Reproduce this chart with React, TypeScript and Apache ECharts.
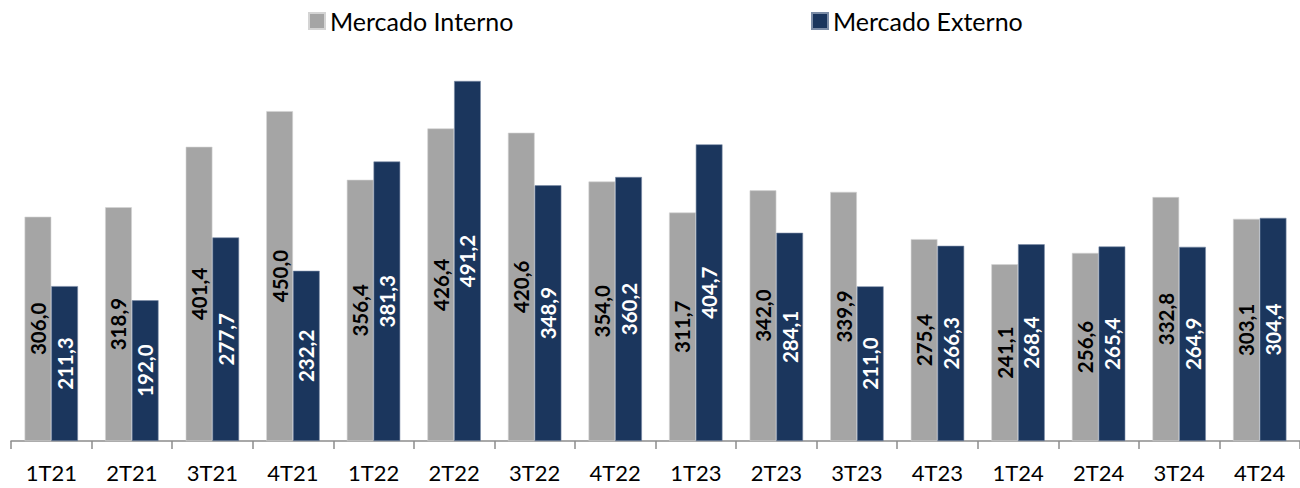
import React, { useEffect, useRef } from "react";
import * as echarts from "echarts";

const categories = ["1T21", "2T21", "3T21", "4T21", "1T22", "2T22", "3T22", "4T22", "1T23", "2T23", "3T23", "4T23", "1T24", "2T24", "3T24", "4T24"];
const mercadoInterno = [306.0, 318.9, 401.4, 450.0, 356.4, 426.4, 420.6, 354.0, 311.7, 342.0, 339.9, 275.4, 241.1, 256.6, 332.8, 303.1];
const mercadoExterno = [211.3, 192.0, 277.7, 232.2, 381.3, 491.2, 348.9, 360.2, 404.7, 284.1, 211.0, 266.3, 268.4, 265.4, 264.9, 304.4];
const seriesNames = ["Mercado Interno", "Mercado Externo"];

const FONT = "Lato, 'Open Sans', sans-serif";
const fmt = (p: any) => Number(p.value).toFixed(1).replace(".", ",");

export default function App() {
  const ref = useRef<HTMLDivElement>(null);
  useEffect(() => {
    if (!ref.current) return;
    const chart = echarts.init(ref.current, undefined, { renderer: "svg" });
    const legendBase = {
      top: 8.5,
      padding: 0,
      icon: "rect",
      itemWidth: 16,
      itemHeight: 16,
      textStyle: { color: "#000", fontSize: 25, fontFamily: FONT },
    };
    chart.setOption({
      animation: false,
      backgroundColor: "#ffffff",
      legend: [
        { ...legendBase, data: [seriesNames[0]], left: 308 },
        { ...legendBase, data: [seriesNames[1]], left: 811 },
      ],
      grid: { left: 11, top: 74.5, width: 1297, height: 366.5, containLabel: false },
      xAxis: {
        type: "category",
        data: categories,
        axisLine: { lineStyle: { color: "#8c8c8c", width: 1.5 } },
        axisTick: { show: true, length: 8, lineStyle: { color: "#8c8c8c", width: 1.5 } },
        axisLabel: { color: "#000", fontSize: 22, fontFamily: FONT, margin: 20 },
      },
      yAxis: {
        type: "value",
        min: 0,
        max: 500,
        show: false,
        splitLine: { show: false },
      },
      series: [
        {
          name: seriesNames[0],
          type: "bar",
          data: mercadoInterno,
          barWidth: 26.7,
          barGap: "0%",
          itemStyle: { color: "#A5A5A5", borderColor: "#d4d4d4", borderWidth: 0.6 },
          label: {
            show: true,
            position: "inside",
            rotate: 90,
            formatter: fmt,
            color: "#000",
            fontWeight: "bold",
            fontSize: 20.5,
            fontFamily: FONT,
          },
        },
        {
          name: seriesNames[1],
          type: "bar",
          data: mercadoExterno,
          barWidth: 26.7,
          barGap: "0%",
          itemStyle: { color: "#1B365D", borderColor: "#7b8ca6", borderWidth: 0.6 },
          label: {
            show: true,
            position: "inside",
            rotate: 90,
            formatter: fmt,
            color: "#fff",
            fontWeight: "bold",
            fontSize: 20.5,
            fontFamily: FONT,
          },
        },
      ],
    });
    return () => chart.dispose();
  }, []);
  return <div ref={ref} style={{ position: "fixed", left: 0, top: 0, width: 1300, height: 488 }} />;
}
